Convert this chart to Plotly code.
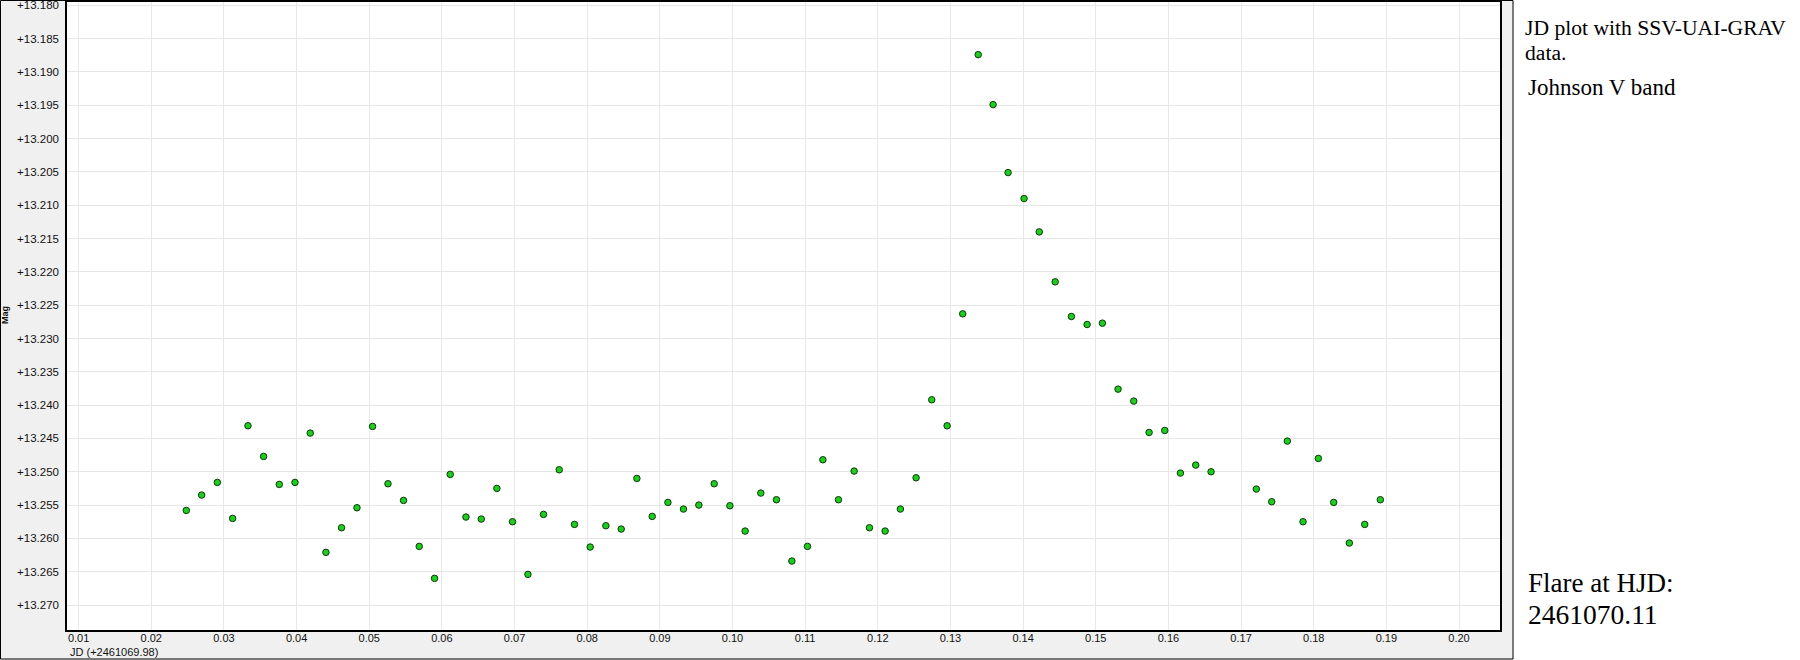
import plotly.graph_objects as go

# ---- data (JD offset from 2461069.98, magnitude) ----
jd = [0.02482, 0.02693, 0.02909, 0.03120, 0.03331, 0.03546, 0.03762, 0.03978, 0.04188, 0.04404,
      0.04619, 0.04831, 0.05046, 0.05258, 0.05472, 0.05688, 0.05899, 0.06115, 0.06331, 0.06542,
      0.06757, 0.06972, 0.07184, 0.07399, 0.07615, 0.07825, 0.08041, 0.08257, 0.08468, 0.08684,
      0.08895, 0.09111, 0.09325, 0.09537, 0.09748, 0.09964, 0.10174, 0.10390, 0.10605, 0.10817,
      0.11032, 0.11244, 0.11458, 0.11674, 0.11885, 0.12101, 0.12311, 0.12527, 0.12743, 0.12954,
      0.13169, 0.13382, 0.13587, 0.13793, 0.14013, 0.14222, 0.14441, 0.14665, 0.14881, 0.15091,
      0.15307, 0.15523, 0.15734, 0.15950, 0.16165, 0.16376, 0.16587, 0.17210, 0.17422, 0.17637,
      0.17853, 0.18064, 0.18275, 0.18490, 0.18702, 0.18917]
mag = [13.2558, 13.2535, 13.2516, 13.2570, 13.2431, 13.2477, 13.2519, 13.2516, 13.2442, 13.2621,
       13.2584, 13.2554, 13.2432, 13.2518, 13.2543, 13.2612, 13.2660, 13.2504, 13.2568, 13.2571,
       13.2525, 13.2575, 13.2654, 13.2564, 13.2497, 13.2579, 13.2613, 13.2581, 13.2586, 13.2510,
       13.2567, 13.2546, 13.2556, 13.2550, 13.2518, 13.2551, 13.2589, 13.2532, 13.2542, 13.2634,
       13.2612, 13.2482, 13.2542, 13.2499, 13.2584, 13.2589, 13.2556, 13.2509, 13.2392, 13.2431,
       13.2263, 13.1874, 13.1949, 13.2051, 13.2090, 13.2140, 13.2215, 13.2267, 13.2279, 13.2277,
       13.2376, 13.2394, 13.2441, 13.2438, 13.2502, 13.2490, 13.2500, 13.2526, 13.2545, 13.2454,
       13.2575, 13.2480, 13.2546, 13.2607, 13.2579, 13.2542]

x_ticks = [0.01, 0.02, 0.03, 0.04, 0.05, 0.06, 0.07, 0.08, 0.09, 0.10,
           0.11, 0.12, 0.13, 0.14, 0.15, 0.16, 0.17, 0.18, 0.19, 0.20]
x_tick_labels = ["0.01", "0.02", "0.03", "0.04", "0.05", "0.06", "0.07", "0.08", "0.09", "0.10",
                 "0.11", "0.12", "0.13", "0.14", "0.15", "0.16", "0.17", "0.18", "0.19", "0.20"]
y_ticks = [13.180, 13.185, 13.190, 13.195, 13.200, 13.205, 13.210, 13.215, 13.220, 13.225,
           13.230, 13.235, 13.240, 13.245, 13.250, 13.255, 13.260, 13.265, 13.270]
y_tick_labels = ["+13.180", "+13.185", "+13.190", "+13.195", "+13.200", "+13.205", "+13.210",
                 "+13.215", "+13.220", "+13.225", "+13.230", "+13.235", "+13.240", "+13.245",
                 "+13.250", "+13.255", "+13.260", "+13.265", "+13.270"]

x_title = "JD (+2461069.98)"
y_title = "Mag"
note1 = "JD plot with SSV-UAI-GRAV"
note2 = "data."
note3 = "Johnson V band"
note4 = "Flare at HJD:"
note5 = "2461070.11"

# ---- layout geometry (pixels) ----
W, H = 1800, 660
L, R, T, B = 67, 300, 2, 30
PW, PH = W - L - R, H - T - B


def px(x):
    return (x - L) / PW


def py(y):
    return (H - B - y) / PH


sans = "Liberation Sans, Arial, sans-serif"
serif = "Liberation Serif, Times New Roman, serif"

fig = go.Figure()
fig.add_trace(go.Scatter(
    x=jd, y=mag, mode="markers",
    marker=dict(size=6.5, color="#1fcc1f", line=dict(color="#0a3a0a", width=1)),
    showlegend=False, hoverinfo="x+y"))

fig.update_layout(
    width=W, height=H,
    margin=dict(l=L, r=R, t=T, b=B, autoexpand=False),
    paper_bgcolor="#F0F0F0",
    plot_bgcolor="white",
    xaxis=dict(range=[0.0084, 0.20564], tickvals=x_ticks, ticktext=x_tick_labels,
               automargin=False,
               showgrid=True, gridcolor="#E8E8E8", gridwidth=1.2, zeroline=False,
               showline=True, linecolor="black", linewidth=1.5, mirror=True,
               ticks="", tickfont=dict(family=sans, size=11, color="#111"), ticklabelstandoff=-3),
    yaxis=dict(range=[13.27375, 13.1795], tickvals=y_ticks, ticktext=y_tick_labels,
               automargin=False, ticklabeloverflow="allow",
               showgrid=True, gridcolor="#E6E6E6", gridwidth=1, zeroline=False,
               showline=True, linecolor="black", linewidth=1.5, mirror=True,
               ticks="", tickfont=dict(family=sans, size=11.5, color="#111"), ticklabelstandoff=4),
)

shapes = [
    # white area at right for notes
    dict(type="rect", xref="paper", yref="paper", x0=px(1513.5), x1=px(1802), y0=py(-2), y1=py(662),
         fillcolor="white", line=dict(width=0), layer="above"),
    # outer frame of chart panel
    dict(type="rect", xref="paper", yref="paper", x0=px(0.5), x1=px(1513), y0=py(0.5), y1=py(659),
         fillcolor="rgba(0,0,0,0)", line=dict(color="black", width=1), layer="above"),
]
fig.update_layout(shapes=shapes)

anns = [
    dict(text=x_title, x=px(68), y=py(652), xanchor="left", yanchor="middle",
         font=dict(family=sans, size=11, color="#111")),
    dict(text="<b>" + y_title + "</b>", x=px(5), y=py(315), xanchor="center", yanchor="middle",
         textangle=-90, font=dict(family=sans, size=9, color="#111")),
    dict(text=note1, x=px(1523), y=py(28), xanchor="left", yanchor="middle",
         font=dict(family=serif, size=21.6, color="black")),
    dict(text=note2, x=px(1523), y=py(53), xanchor="left", yanchor="middle",
         font=dict(family=serif, size=21.6, color="black")),
    dict(text=note3, x=px(1526), y=py(88), xanchor="left", yanchor="middle",
         font=dict(family=serif, size=23, color="black")),
    dict(text=note4, x=px(1526), y=py(583), xanchor="left", yanchor="middle",
         font=dict(family=serif, size=27, color="black")),
    dict(text=note5, x=px(1526), y=py(614), xanchor="left", yanchor="middle",
         font=dict(family=serif, size=27.5, color="black")),
]
for a in anns:
    a.update(xref="paper", yref="paper", showarrow=False)
fig.update_layout(annotations=anns)

fig.write_html(
    "out.html",
    config={"displayModeBar": False},
    post_script="document.body.style.margin='0';document.body.style.overflow='hidden';",
)
